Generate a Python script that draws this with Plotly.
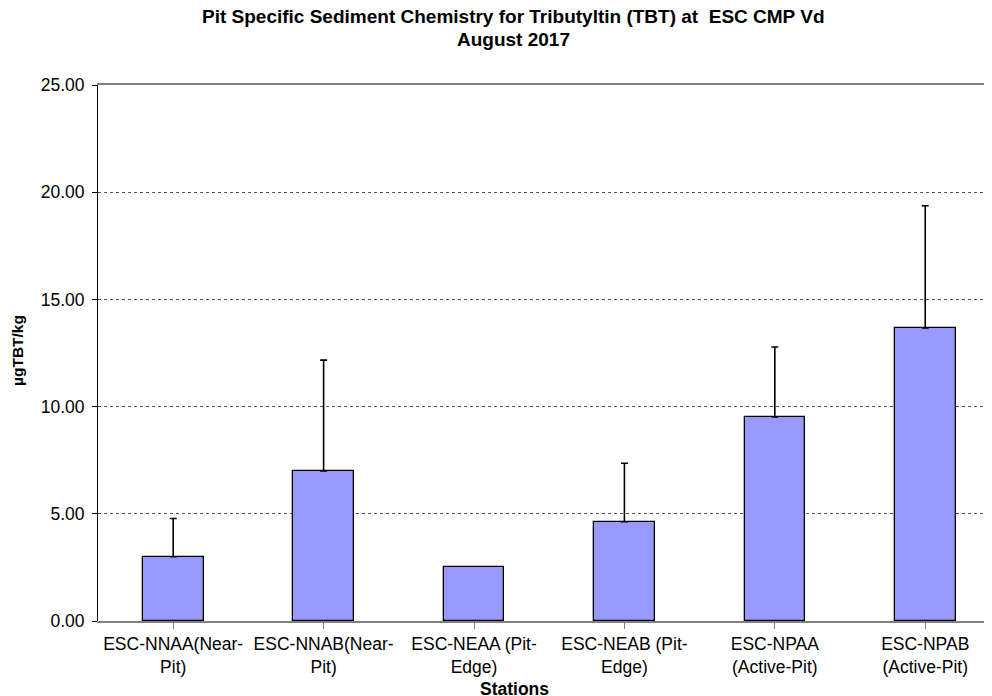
import plotly.graph_objects as go

categories = [
    "ESC-NNAA(Near-<br>Pit)",
    "ESC-NNAB(Near-<br>Pit)",
    "ESC-NEAA (Pit-<br>Edge)",
    "ESC-NEAB (Pit-<br>Edge)",
    "ESC-NPAA<br>(Active-Pit)",
    "ESC-NPAB<br>(Active-Pit)",
]
means = [3.0, 7.0, 2.5, 4.63, 9.52, 13.67]
err_plus = [1.78, 5.17, None, 2.73, 3.26, 5.70]
y_ticks = [0, 5, 10, 15, 20, 25]
y_tick_labels = ["0.00", "5.00", "10.00", "15.00", "20.00", "25.00"]
title_lines = ["Pit Specific Sediment Chemistry for Tributyltin (TBT) at  ESC CMP Vd", "August 2017"]
x_title = "Stations"
y_title = "µgTBT/kg"

err_up = [v if v is not None else "NaN" for v in err_plus]
err_down = [0 if v is not None else "NaN" for v in err_plus]

fig = go.Figure()
fig.add_trace(go.Bar(
    x=list(range(len(categories))),
    y=means,
    width=0.403,
    marker=dict(color="#9999FF", line=dict(color="black", width=1.3)),
    error_y=dict(type="data", array=err_up, arrayminus=err_down,
                 symmetric=False, color="black", thickness=1.6, width=3.5),
    showlegend=False,
    hoverinfo="y",
))

font_main = "Arial, Liberation Sans, sans-serif"

fig.update_layout(
    width=984, height=688,
    margin=dict(l=90, r=0, t=77, b=75),
    paper_bgcolor="white", plot_bgcolor="white",
    font=dict(family=font_main, size=17, color="black"),
    bargap=0,
)

# titles as annotations (plot area is 536 px tall, 894 px wide)
fig.add_annotation(text="<b>" + title_lines[0] + "</b>", xref="paper", yref="paper",
                   x=0.4645, y=1.1287, xanchor="center", yanchor="middle", showarrow=False,
                   font=dict(family=font_main, size=19, color="black"))
fig.add_annotation(text="<b>" + title_lines[1] + "</b>", xref="paper", yref="paper",
                   x=0.4645, y=1.0840, xanchor="center", yanchor="middle", showarrow=False,
                   font=dict(family=font_main, size=19, color="black"))
fig.add_annotation(text="<b>" + x_title + "</b>", xref="paper", yref="paper",
                   x=0.4664, y=-0.1269, xanchor="center", yanchor="middle", showarrow=False,
                   font=dict(family=font_main, size=17.5, color="black"))
fig.add_annotation(text="<b>" + y_title + "</b>", xref="paper", yref="paper",
                   x=-0.0895, y=0.5056, xanchor="center", yanchor="middle", showarrow=False,
                   textangle=-90,
                   font=dict(family=font_main, size=15.5, color="black"))

fig.update_xaxes(
    range=[-0.5, 5.444],
    tickmode="array",
    tickvals=list(range(len(categories))),
    ticktext=categories,
    tickson="boundaries",
    ticks="outside", ticklen=6, tickcolor="#808080",
    showline=True, linecolor="#808080", linewidth=1.5, mirror=True,
    showgrid=False, zeroline=False,
    tickfont=dict(family=font_main, size=17.5, color="black"),
)

fig.update_yaxes(
    range=[0, 25],
    tickmode="array",
    tickvals=y_ticks,
    ticktext=y_tick_labels,
    ticks="outside", ticklen=5, tickcolor="black",
    ticklabelstandoff=4,
    showline=True, linecolor="black", linewidth=1,
    showgrid=True, gridcolor="#555555", griddash="dot", gridwidth=1,
    zeroline=False,
    tickfont=dict(family=font_main, size=17.5, color="black"),
)

fig.write_html("out.html")
